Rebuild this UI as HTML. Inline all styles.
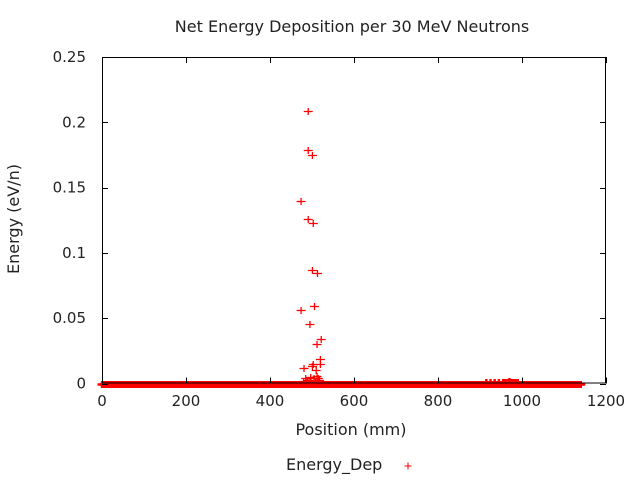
<!DOCTYPE html>
<html><head><meta charset="utf-8">
<style>
body{margin:0;background:#fff;}
svg{display:block;font-family:"DejaVu Sans","Liberation Sans",sans-serif;}
</style></head>
<body>
<svg id="chart" width="640" height="480" viewBox="0 0 640 480">
<rect width="640" height="480" fill="#fff"/>
<text x="352" y="32" text-anchor="middle" font-size="16" fill="#222">Net Energy Deposition per 30 MeV Neutrons</text>
<text transform="translate(19,219) rotate(-90)" text-anchor="middle" font-size="16" fill="#222">Energy (eV/n)</text>
<text x="351" y="435" text-anchor="middle" font-size="16" fill="#222">Position (mm)</text>
<g id="marks"></g>
<g id="axes"></g>
<g>
<text x="286" y="470" font-size="16" fill="#222">Energy_Dep</text>
<path d="M404.5 466H411.5M408 462.5V469.5" stroke="#f00" stroke-width="1"/>
</g>
</svg>
<script>
const xTicks=[0,200,400,600,800,1000,1200];
const yTicks=[0,0.05,0.1,0.15,0.2,0.25];
const yTickLabels=["0","0.05","0.1","0.15","0.2","0.25"];
const peakPos=[491,491,501,474,491,503,501,513,474,506,495,522,512,520,520,481,501,503,510,485,490,497,505,512,518,480,488,495,508,515];
const peakVal=[0.2087,0.1788,0.1747,0.1397,0.126,0.1226,0.0867,0.0846,0.0563,0.0593,0.0453,0.034,0.030,0.0185,0.0149,0.0121,0.0134,0.0149,0.0103,0.004,0.003,0.005,0.004,0.006,0.003,0.002,0.002,0.003,0.002,0.004];
const tailPos=[915,925,935,945,955,960,965,970,975,980,985,990];
const tailVal=[0.001,0.001,0.001,0.0012,0.001,0.0015,0.0012,0.0018,0.0015,0.001,0.0012,0.001];
const basePos=[0,5,10,15,20,25,30,35,40,45,50,55,60,65,70,75,80,85,90,95,100,105,110,115,120,125,130,135,140,145,150,155,160,165,170,175,180,185,190,195,200,205,210,215,220,225,230,235,240,245,250,255,260,265,270,275,280,285,290,295,300,305,310,315,320,325,330,335,340,345,350,355,360,365,370,375,380,385,390,395,400,405,410,415,420,425,430,435,440,445,450,455,460,465,470,475,480,485,490,495,500,505,510,515,520,525,530,535,540,545,550,555,560,565,570,575,580,585,590,595,600,605,610,615,620,625,630,635,640,645,650,655,660,665,670,675,680,685,690,695,700,705,710,715,720,725,730,735,740,745,750,755,760,765,770,775,780,785,790,795,800,805,810,815,820,825,830,835,840,845,850,855,860,865,870,875,880,885,890,895,900,905,910,915,920,925,930,935,940,945,950,955,960,965,970,975,980,985,990,995,1000,1005,1010,1015,1020,1025,1030,1035,1040,1045,1050,1055,1060,1065,1070,1075,1080,1085,1090,1095,1100,1105,1110,1115,1120,1125,1130,1135,1140];

const X0=102,X1=606,Y0=383.5,Y1=57;
const xs=v=>X0+(v-0)/(1200-0)*(X1-X0);
const ys=v=>Y0-(v-0)/(0.25-0)*(Y0-Y1);
const NS="http://www.w3.org/2000/svg";
const axes=document.getElementById('axes');
const marks=document.getElementById('marks');
function mk(tag,attrs,parent){const e=document.createElementNS(NS,tag);for(const k in attrs)e.setAttribute(k,attrs[k]);parent.appendChild(e);return e;}

const frame=mk('rect',{x:X0+0.5,y:Y1+0.5,width:X1-X0-1,height:Y0-Y1-1,fill:'none',stroke:'#000','stroke-width':1},axes);



xTicks.forEach((t,i)=>{
  const x=Math.round(xs(t))+0.5;
  const tk=mk('path',{d:`M${x} ${Y0}V${Y0-6}M${x} ${Y1}V${Y1+6}`,stroke:'#000','stroke-width':1},axes);
  
  
  const lb=mk('text',{x:xs(t),y:406,'text-anchor':'middle','font-size':15,fill:'#222'},axes);
  lb.textContent=String(t);
  
  
});
yTicks.forEach((t,i)=>{
  const y=Math.round(ys(t))+0.5;
  const tk=mk('path',{d:`M${X0} ${y}H${X0+6}M${X1} ${y}H${X1-6}`,stroke:'#000','stroke-width':1},axes);
  
  
  const lb=mk('text',{x:86,y:ys(t)+5,'text-anchor':'end','font-size':15,fill:'#222'},axes);
  lb.textContent=yTickLabels[i];
  
  
});

function plus(p,v,sw){
  const x=xs(p),y=Math.round(ys(v))+0.5;
  const m=mk('path',{d:`M${x-4.5} ${y}H${x+4.5}M${x} ${y-3.5}V${y+3.5}`,stroke:'#f00','stroke-width':sw},marks);
  
  
}
basePos.forEach(p=>plus(p,0,2.4));
tailPos.forEach((p,i)=>plus(p,tailVal[i],2.4));
peakPos.forEach((p,i)=>plus(p,peakVal[i],1.3));
</script>
</body></html>
